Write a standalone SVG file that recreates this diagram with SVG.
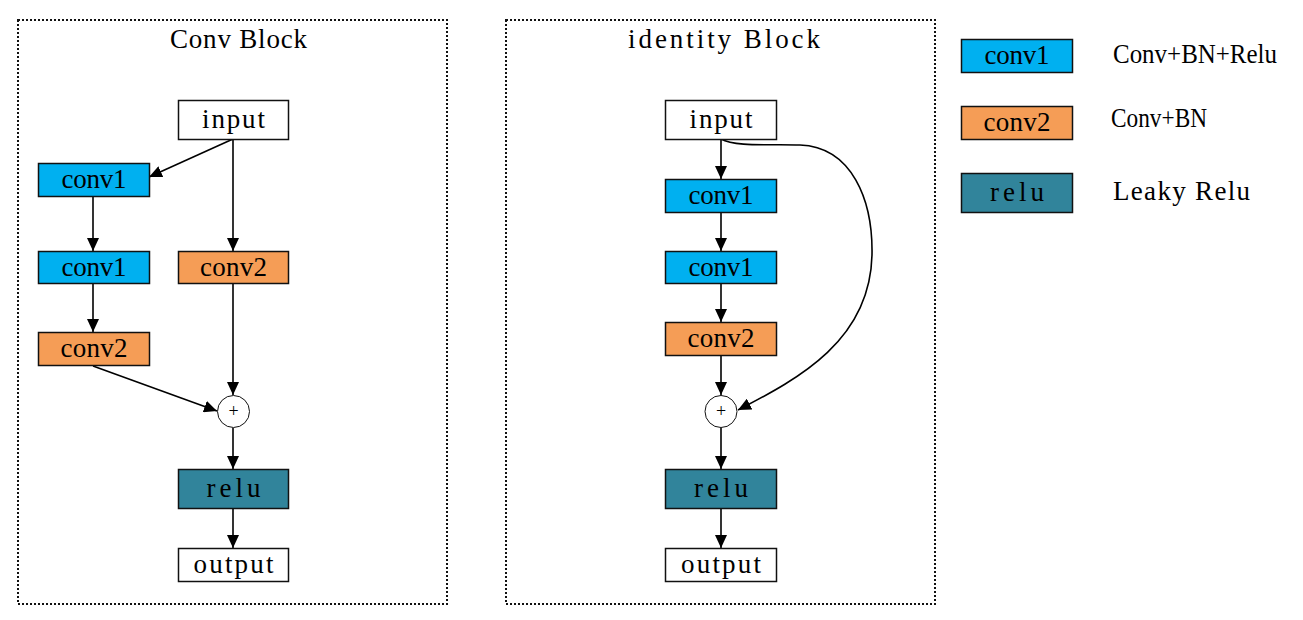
<svg xmlns="http://www.w3.org/2000/svg" width="1303" height="620" viewBox="0 0 1303 620">
<style>
text{font-family:"Liberation Serif","DejaVu Serif",serif;fill:#000}
.lbl{font-size:27px;text-anchor:middle}
.title{font-size:27px;text-anchor:middle}
.leg{font-size:27px}
.frame{fill:none;stroke:#111;stroke-width:2;stroke-dasharray:2 2}
.box{stroke:#111;stroke-width:1.5}
.w{fill:#fff}
.c1{fill:#00B0F0}
.c2{fill:#F59D56}
.rl{fill:#31849B}
.plus{fill:#fff;stroke:#111;stroke-width:1}
.pt{font-size:18px;text-anchor:middle}
.edge{fill:none;stroke:#000;stroke-width:1.6;marker-end:url(#ah)}
</style>
<defs>
<marker id="ah" markerUnits="userSpaceOnUse" markerWidth="14" markerHeight="12" refX="13" refY="6" orient="auto">
<path d="M0,0 L13,6 L0,12 Z" fill="#000"/>
</marker>
</defs>
<rect width="1303" height="620" fill="#fff"/>
<g id="frame-conv">
<rect class="frame" x="18" y="20" width="429" height="584"/>
<text class="title" x="238.5" y="48" textLength="137" lengthAdjust="spacing">Conv Block</text>
</g>
<g id="frame-identity">
<rect class="frame" x="506" y="20" width="429" height="584"/>
<text class="title" x="724" y="48" textLength="192" lengthAdjust="spacing">identity Block</text>
</g>
<g id="connectors">
<path class="edge" d="M233,139 L149,177"/>
<path class="edge" d="M233,139 L233,251"/>
<path class="edge" d="M93,197 L93,251"/>
<path class="edge" d="M93,283 L93,332"/>
<path class="edge" d="M93,366 L217,411"/>
<path class="edge" d="M233,283 L233,395"/>
<path class="edge" d="M233,428 L233,469"/>
<path class="edge" d="M233,509 L233,548"/>
<path class="edge" d="M721,139 L721,179"/>
<path class="edge" d="M721,212 L721,251"/>
<path class="edge" d="M721,283 L721,322"/>
<path class="edge" d="M721,355 L721,395"/>
<path class="edge" d="M721,428 L721,469"/>
<path class="edge" d="M721,509 L721,548"/>
<path class="edge" d="M721,139 C735,147 770,144 800,145 C852,147 873,200 872,255 C870,340 800,378 738,410"/>
</g>
<g id="c-input"><rect class="box w" x="178.5" y="100.5" width="110" height="39"/><text class="lbl" x="233.5" y="128" textLength="63" lengthAdjust="spacing">input</text></g>
<g id="c-conv1a"><rect class="box c1" x="38.5" y="163.5" width="111" height="33"/><text class="lbl" x="94" y="188" textLength="65" lengthAdjust="spacing">conv1</text></g>
<g id="c-conv1b"><rect class="box c1" x="38.5" y="251.5" width="111" height="32"/><text class="lbl" x="94" y="276" textLength="65" lengthAdjust="spacing">conv1</text></g>
<g id="c-conv2a"><rect class="box c2" x="38.5" y="332.5" width="111" height="33"/><text class="lbl" x="94" y="357" textLength="67" lengthAdjust="spacing">conv2</text></g>
<g id="c-conv2b"><rect class="box c2" x="178.5" y="251.5" width="110" height="32"/><text class="lbl" x="233.5" y="276" textLength="67" lengthAdjust="spacing">conv2</text></g>
<g id="c-add"><circle class="plus" cx="233.5" cy="411.5" r="16"/><text class="pt" x="233.5" y="417">+</text></g>
<g id="c-relu"><rect class="box rl" x="178.5" y="469.5" width="110" height="39"/><text class="lbl" x="233.5" y="497" textLength="54" lengthAdjust="spacing">relu</text></g>
<g id="c-output"><rect class="box w" x="178.5" y="548.5" width="110" height="33"/><text class="lbl" x="233.5" y="573" textLength="80" lengthAdjust="spacing">output</text></g>

<g id="i-input"><rect class="box w" x="665.5" y="100.5" width="111" height="39"/><text class="lbl" x="721" y="128" textLength="63" lengthAdjust="spacing">input</text></g>
<g id="i-conv1a"><rect class="box c1" x="665.5" y="179.5" width="111" height="33"/><text class="lbl" x="721" y="204" textLength="65" lengthAdjust="spacing">conv1</text></g>
<g id="i-conv1b"><rect class="box c1" x="665.5" y="251.5" width="111" height="32"/><text class="lbl" x="721" y="276" textLength="65" lengthAdjust="spacing">conv1</text></g>
<g id="i-conv2"><rect class="box c2" x="665.5" y="322.5" width="111" height="33"/><text class="lbl" x="721" y="347" textLength="67" lengthAdjust="spacing">conv2</text></g>
<g id="i-add"><circle class="plus" cx="721" cy="411.5" r="16"/><text class="pt" x="721" y="417">+</text></g>
<g id="i-relu"><rect class="box rl" x="665.5" y="469.5" width="111" height="39"/><text class="lbl" x="721" y="497" textLength="54" lengthAdjust="spacing">relu</text></g>
<g id="i-output"><rect class="box w" x="665.5" y="548.5" width="111" height="33"/><text class="lbl" x="721" y="573" textLength="80" lengthAdjust="spacing">output</text></g>

<g id="legend-conv1"><rect class="box c1" x="961.5" y="39.5" width="111" height="33"/><text class="lbl" x="1017" y="64" textLength="65" lengthAdjust="spacing">conv1</text><text class="leg" x="1113" y="63" textLength="164" lengthAdjust="spacingAndGlyphs">Conv+BN+Relu</text></g>
<g id="legend-conv2"><rect class="box c2" x="961.5" y="106.5" width="111" height="33"/><text class="lbl" x="1017" y="131" textLength="67" lengthAdjust="spacing">conv2</text><text class="leg" x="1111" y="127" textLength="96" lengthAdjust="spacingAndGlyphs">Conv+BN</text></g>
<g id="legend-relu"><rect class="box rl" x="961.5" y="173.5" width="111" height="39"/><text class="lbl" x="1017" y="201" textLength="54" lengthAdjust="spacing">relu</text><text class="leg" x="1113" y="200" textLength="137" lengthAdjust="spacing">Leaky Relu</text></g>
</svg>
